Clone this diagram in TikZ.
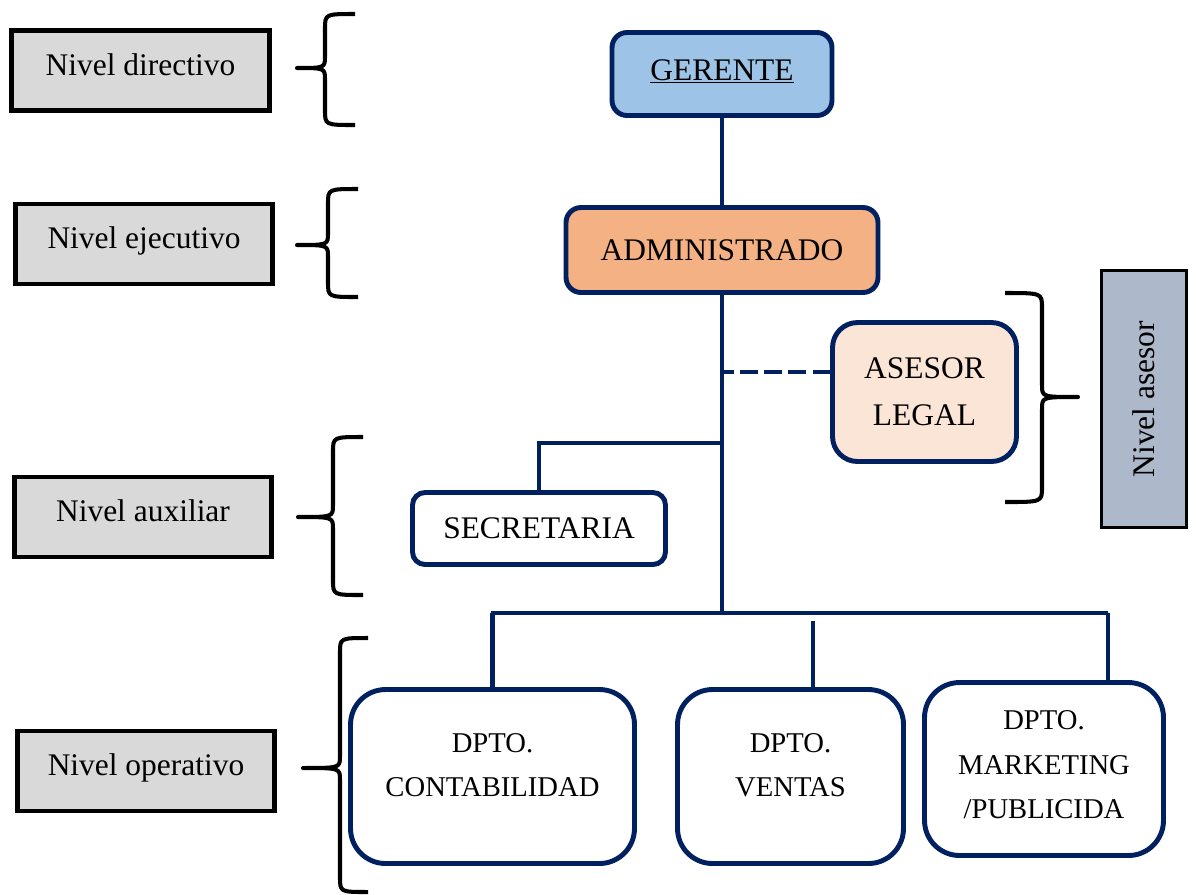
\documentclass[tikz,border=0pt]{standalone}
\usepackage{fontspec}
\setmainfont{Liberation Serif}
\definecolor{navy}{HTML}{002060}
\definecolor{lvlgray}{HTML}{D9D9D9}
\definecolor{asesorgray}{HTML}{ADB9CA}
\definecolor{gerblue}{HTML}{9DC3E6}
\definecolor{admorange}{HTML}{F4B183}
\definecolor{aspeach}{HTML}{FBE5D6}
\begin{document}
\begin{tikzpicture}[x=0.02cm,y=-0.02cm,
		lvlbox/.style={draw=black,fill=lvlgray,line width=2.8pt,minimum width=5.15cm,minimum height=1.6cm,text height=12.5pt,text depth=7pt,font=\fontsize{17.9}{21}\selectfont},
		orgbox/.style={draw=navy,fill=white,line width=2.8pt,rounded corners=0.3cm,align=center,font=\fontsize{17.9}{26.6}\selectfont},
		dptobox/.style={orgbox,rounded corners=0.7cm,minimum height=3.48cm,text depth=13pt,font=\fontsize{16.3}{25.5}\selectfont},
		link/.style={draw=navy,line width=2.3pt},
		brk/.style={line width=2.3pt,line join=round}]
		\useasboundingbox (0,0) rectangle (1196,894);
		% niveles
		\node[lvlbox] (dir) at (140.5,70.5) {Nivel directivo};
		\node[lvlbox] (eje) at (144,244) {Nivel ejecutivo};
		\node[lvlbox] (aux) at (143,517) {Nivel auxiliar};
		\node[lvlbox] (ope) at (146,771) {Nivel operativo};
		\node[lvlbox,fill=asesorgray,line width=2pt,minimum width=5.14cm,minimum height=1.7cm,text height=12.2pt,text depth=0pt,rotate=90] (nas) at (1144,399) {Nivel asesor};
		% llaves
		\foreach \yt/\ym/\yb/\xt/\xv/\xe in {14/68/125/297/325/355, 189/245/297/297/328/358, 437/517/595/298/333/363, 638/768/892/303/340/368, 293/397/502/1078/1042/1005}
		\draw[brk] (\xe,\yt) .. controls (\xv,\yt) .. (\xv,\yt+15) -- (\xv,\ym-12) .. controls (\xv,\ym) .. (\xt,\ym) .. controls (\xv,\ym) .. (\xv,\ym+12) -- (\xv,\yb-15) .. controls (\xv,\yb) .. (\xe,\yb);
		% organigrama
		\node[orgbox,fill=gerblue,minimum width=4.4cm,minimum height=1.66cm,text depth=5pt] (gerente) at (722,74) {\underline{GERENTE}};
		\node[orgbox,fill=admorange,minimum width=6.24cm,minimum height=1.7cm] (admin) at (722,250) {ADMINISTRADO};
		\node[orgbox,fill=aspeach,minimum width=3.68cm,minimum height=2.78cm,rounded corners=0.5cm] (asesor) at (924.5,392) {ASESOR\\LEGAL};
		\node[orgbox,minimum width=5.06cm,minimum height=1.44cm,rounded corners=0.25cm] (secretaria) at (539,528.5) {SECRETARIA};
		\node[dptobox,minimum width=5.68cm] (contab) at (492.5,776.5) {DPTO.\\CONTABILIDAD};
		\node[dptobox,minimum width=4.52cm] (ventas) at (790.5,776.5) {DPTO.\\VENTAS};
		\node[dptobox,minimum width=4.78cm,minimum height=3.46cm,text depth=5pt] (marketing) at (1044,769) {DPTO.\\MARKETING\\/PUBLICIDA};
		\coordinate (bus) at (722,613);
		\coordinate (sec) at (722,443);
		\draw[link] (gerente) -- (admin);
		\draw[link] (admin.south) -- (bus);
		\draw[link,dash pattern=on 10pt off 3.7pt] ([yshift=0.4cm]asesor.west) -- ([yshift=0.4cm]asesor.west -| bus);
		\draw[link] (sec) -| (secretaria.north);
		\draw[link] (bus -| contab.north) ++(-2,0) -- ([xshift=1.28cm]bus -| marketing.north) ++(2,0);
		\draw[link] (bus -| contab.north) -- (contab.north);
		\draw[link] ([xshift=0.45cm]ventas.north) -- ++(0,-66);
		\draw[link] ([xshift=1.28cm]bus -| marketing.north) -- ([xshift=1.28cm]marketing.north);
	\end{tikzpicture}
\end{document}
